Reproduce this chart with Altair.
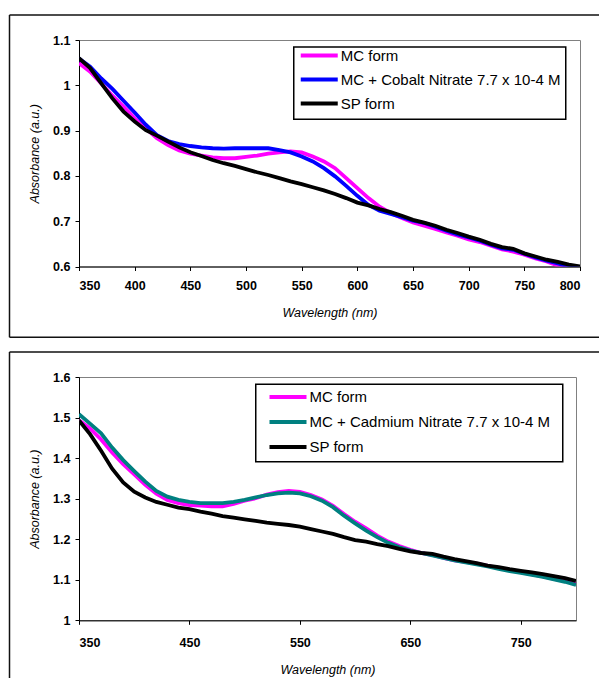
import altair as alt
import pandas as pd

# Wavelength sampling (nm)
WAVELENGTH = [350, 360, 370, 380, 390, 400, 410, 420, 430, 440, 450, 460, 470, 480, 490,
              500, 510, 520, 530, 540, 550, 560, 570, 580, 590, 600, 610, 620, 630, 640,
              650, 660, 670, 680, 690, 700, 710, 720, 730, 740, 750, 760, 770, 780, 790, 800]

# ---- top panel (Cobalt) ----
TOP_NAMES = ["MC form", "MC + Cobalt Nitrate 7.7 x 10-4 M", "SP form"]
TOP_COLORS = ["#FF00FF", "#0000FF", "#000000"]
TOP_MC = [1.049, 1.030, 1.004, 0.977, 0.953, 0.927, 0.905, 0.883, 0.868, 0.856, 0.849, 0.845,
          0.841, 0.839, 0.839, 0.842, 0.845, 0.849, 0.852, 0.854, 0.852, 0.843, 0.832, 0.817,
          0.795, 0.773, 0.751, 0.732, 0.718, 0.707, 0.697, 0.690, 0.683, 0.675, 0.668, 0.660,
          0.654, 0.646, 0.638, 0.633, 0.626, 0.618, 0.611, 0.602, 0.594, 0.588]
TOP_CO = [1.059, 1.041, 1.015, 0.992, 0.966, 0.940, 0.913, 0.890, 0.877, 0.870, 0.866, 0.863,
          0.861, 0.860, 0.861, 0.861, 0.861, 0.861, 0.857, 0.852, 0.843, 0.832, 0.817, 0.799,
          0.778, 0.756, 0.736, 0.723, 0.716, 0.709, 0.701, 0.696, 0.688, 0.679, 0.671, 0.664,
          0.657, 0.648, 0.640, 0.637, 0.628, 0.620, 0.613, 0.607, 0.600, 0.595]
TOP_SP = [1.060, 1.038, 1.004, 0.971, 0.942, 0.920, 0.901, 0.889, 0.876, 0.863, 0.852, 0.844,
          0.835, 0.828, 0.822, 0.815, 0.808, 0.802, 0.795, 0.788, 0.782, 0.775, 0.768, 0.760,
          0.751, 0.741, 0.735, 0.727, 0.720, 0.712, 0.703, 0.697, 0.690, 0.681, 0.674, 0.666,
          0.659, 0.650, 0.643, 0.639, 0.629, 0.622, 0.615, 0.610, 0.604, 0.600]
TOP_Y_TICKS = [0.6, 0.7, 0.8, 0.9, 1.0, 1.1]
TOP_X_TICKS = [350, 400, 450, 500, 550, 600, 650, 700, 750, 800]

# ---- bottom panel (Cadmium) ----
BOT_NAMES = ["MC form", "MC + Cadmium Nitrate 7.7 x 10-4 M", "SP form"]
BOT_COLORS = ["#FF00FF", "#008080", "#000000"]
BOT_MC = [1.493, 1.473, 1.446, 1.414, 1.385, 1.360, 1.334, 1.312, 1.297, 1.289, 1.284, 1.283,
          1.281, 1.281, 1.287, 1.295, 1.301, 1.310, 1.316, 1.319, 1.317, 1.309, 1.298, 1.282,
          1.262, 1.243, 1.227, 1.209, 1.194, 1.183, 1.174, 1.166, 1.161, 1.154, 1.148, 1.144,
          1.140, 1.134, 1.129, 1.123, 1.119, 1.113, 1.108, 1.102, 1.097, 1.089]
BOT_CD = [1.508, 1.485, 1.461, 1.426, 1.395, 1.368, 1.342, 1.319, 1.305, 1.297, 1.292, 1.289,
          1.289, 1.289, 1.292, 1.297, 1.303, 1.309, 1.313, 1.315, 1.313, 1.306, 1.295, 1.279,
          1.258, 1.239, 1.221, 1.205, 1.191, 1.180, 1.172, 1.166, 1.160, 1.154, 1.148, 1.143,
          1.138, 1.133, 1.127, 1.121, 1.117, 1.112, 1.107, 1.101, 1.095, 1.087]
BOT_SP = [1.493, 1.459, 1.418, 1.374, 1.340, 1.317, 1.303, 1.292, 1.285, 1.278, 1.274, 1.268,
          1.263, 1.257, 1.253, 1.249, 1.245, 1.241, 1.238, 1.235, 1.231, 1.225, 1.219, 1.213,
          1.205, 1.198, 1.194, 1.188, 1.183, 1.176, 1.170, 1.166, 1.164, 1.157, 1.151, 1.146,
          1.141, 1.135, 1.131, 1.126, 1.122, 1.118, 1.114, 1.109, 1.104, 1.097]
BOT_Y_TICKS = [1.0, 1.1, 1.2, 1.3, 1.4, 1.5, 1.6]
BOT_X_TICKS = [350, 450, 550, 650, 750]

FONT = "Liberation Sans"


def panel(names, values, colors, y_domain, y_ticks, x_ticks, width, height,
          legend_x, legend_y, row_h, box, frame_top, frame_bottom, frame_right,
          draw_bottom, x_label_pad, x_title_y):
    rows = []
    for name, vals in zip(names, values):
        for w, v in zip(WAVELENGTH, vals):
            rows.append({"wl": w, "absb": v, "series": name})
    df = pd.DataFrame(rows)

    color = alt.Color(
        "series:N",
        scale=alt.Scale(domain=names, range=colors),
        legend=alt.Legend(
            title=None, orient="none", legendX=legend_x, legendY=legend_y,
            symbolType="stroke", symbolSize=1369, symbolStrokeWidth=4,
            labelFontSize=15, labelFont=FONT, labelLimit=400, labelOffset=1,
            padding=0, rowPadding=0, clipHeight=row_h,
        ),
    )
    x = alt.X(
        "wl:Q",
        scale=alt.Scale(domain=[350, 800], nice=False, zero=False),
        axis=alt.Axis(values=x_ticks, title="Wavelength (nm)", labelPadding=x_label_pad,
                      titleX=width / 2, titleY=x_title_y, titleBaseline="middle"),
    )
    y = alt.Y(
        "absb:Q",
        scale=alt.Scale(domain=y_domain, nice=False, zero=False),
        axis=alt.Axis(values=y_ticks, format="~g", title="Absorbance (a.u.)",
                      labelPadding=5, titleX=-45, titleY=height / 2,
                      titleBaseline="middle"),
    )
    lines = [
        alt.Chart(df)
        .transform_filter(alt.datum.series == name)
        .mark_line(strokeWidth=3.8, clip=True)
        .encode(x=x, y=y, color=color)
        for name in names
    ]
    one = alt.Data(values=[{"a": 1}])
    frame_left = -69.5
    deco = [
        alt.Chart(one).mark_rule(color="#111111", strokeWidth=1.5).encode(
            x=alt.value(frame_left), y=alt.value(frame_top), y2=alt.value(frame_bottom)),
        alt.Chart(one).mark_rule(color="#111111", strokeWidth=1.5).encode(
            x=alt.value(frame_left), x2=alt.value(frame_right), y=alt.value(frame_top)),
        alt.Chart(one).mark_rect(fill="white", stroke="black", strokeWidth=1.5).encode(
            x=alt.value(box[0]), x2=alt.value(box[1]), y=alt.value(box[2]), y2=alt.value(box[3])),
    ]
    if draw_bottom:
        deco.append(
            alt.Chart(one).mark_rule(color="#111111", strokeWidth=1.5).encode(
                x=alt.value(frame_left), x2=alt.value(frame_right), y=alt.value(frame_bottom)))
    return alt.layer(*deco, *lines).properties(width=width, height=height)


top = panel(TOP_NAMES, [TOP_MC, TOP_CO, TOP_SP], TOP_COLORS, [0.6, 1.1], TOP_Y_TICKS,
            TOP_X_TICKS, 501, 226.5, 219.75, 3.5, 24, (214.75, 486.75, 7, 79.25),
            -25, 297.25, 520, True, 9, 46)
bottom = panel(BOT_NAMES, [BOT_MC, BOT_CD, BOT_SP], BOT_COLORS, [1.0, 1.6], BOT_Y_TICKS,
               BOT_X_TICKS, 497, 243.3, 188.5, 7.5, 25, (176.75, 483.75, 7.3, 84.7),
               -25, 301, 520, False, 12, 49)

chart = (
    alt.vconcat(top, bottom, spacing=11)
    .resolve_scale(color="independent", x="independent", y="independent")
    .resolve_legend(color="independent")
    .properties(padding={"left": 0, "top": 5, "right": 0, "bottom": 0})
    .configure_view(stroke="#808080", strokeWidth=1)
    .configure_axis(
        grid=False, domainColor="black", tickColor="black", tickSize=4,
        labelColor="black", labelFont=FONT, labelFontSize=12.5, labelFontWeight="bold",
        titleColor="black", titleFont=FONT, titleFontSize=12.5, titleFontWeight="normal",
        titleFontStyle="italic",
    )
)

chart.save("out.html", embed_options={"renderer": "svg", "actions": False})
